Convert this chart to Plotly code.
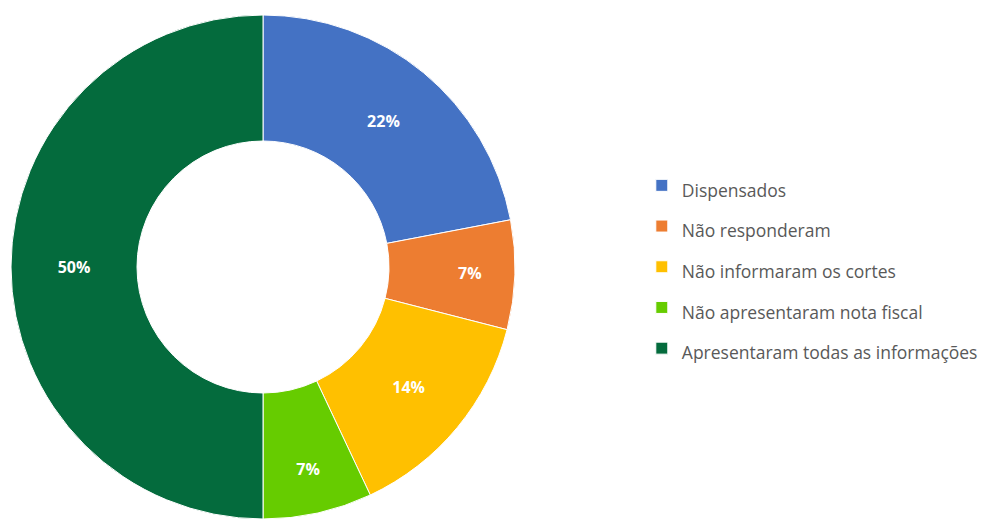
import plotly.graph_objects as go

# Participation breakdown (percent of companies)
categories = [
    "Dispensados",
    "Não responderam",
    "Não informaram os cortes",
    "Não apresentaram nota fiscal",
    "Apresentaram todas as informações",
]
shares = [22, 7, 14, 7, 50]
colors = ["#4472C4", "#ED7D31", "#FFC000", "#66CC00", "#046B3D"]

W, H = 989, 522
ml, mt, mb = 11, 15, 3
plot_w = W - ml
plot_h = H - mt - mb

# legend entries use a big base font for wide row spacing, smaller visible text
legend_labels = [f"<span style='font-size:17.5px'>{c}</span>" for c in categories]

fig = go.Figure(
    go.Pie(
        labels=legend_labels,
        values=shares,
        hole=0.5,
        sort=False,
        direction="clockwise",
        rotation=0,
        marker=dict(colors=colors, line=dict(color="white", width=1)),
        textinfo="percent",
        texttemplate="<b>%{value}%</b>",
        textposition="inside",
        insidetextorientation="horizontal",
        insidetextfont=dict(color="white", size=16, family="Open Sans"),
        domain=dict(x=[0, plot_h / plot_w], y=[0, 1]),
        hoverinfo="label+percent",
    )
)

fig.update_layout(
    width=W,
    height=H,
    margin=dict(l=ml, r=0, t=mt, b=mb),
    paper_bgcolor="white",
    plot_bgcolor="white",
    showlegend=True,
    legend=dict(
        x=0.645,
        y=0.5,
        xanchor="left",
        yanchor="middle",
        font=dict(size=29, color="#595959", family="Open Sans"),
        itemclick=False,
        tracegroupgap=0,
    ),
    uniformtext=dict(minsize=10, mode="show"),
)

fig.write_html("out.html")
